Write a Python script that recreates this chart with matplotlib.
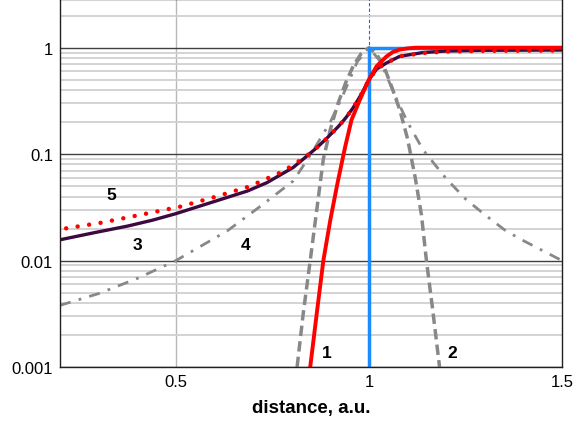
import matplotlib.pyplot as plt
from matplotlib.ticker import FixedLocator, LogLocator, NullFormatter

plt.rcParams['font.family'] = ['Liberation Sans', 'DejaVu Sans']

# curve 1: steep red sigmoid
x1 = [0.848, 0.865, 0.882, 0.9, 0.918, 0.938, 0.955, 0.977, 1.0, 1.02, 1.046,
      1.062, 1.08, 1.1, 1.123, 1.2, 1.5]
y1 = [0.001, 0.0032, 0.01, 0.024, 0.052, 0.115, 0.21, 0.327, 0.50, 0.67, 0.83,
      0.91, 0.96, 0.985, 1.0, 1.0, 1.0]

# curve 2: gray dashed peak
x2 = [0.814, 0.83, 0.848, 0.865, 0.882, 0.9, 0.92, 0.94, 0.96, 0.98, 1.0,
      1.02, 1.04, 1.06, 1.08, 1.1, 1.12, 1.136, 1.149, 1.165, 1.183]
y2 = [0.001, 0.0032, 0.01, 0.03, 0.09, 0.17, 0.30, 0.47, 0.68, 0.88, 1.0,
      0.87, 0.65, 0.42, 0.26, 0.14, 0.06, 0.027, 0.01, 0.0035, 0.001]

# curve 3: dark purple solid
x3 = [0.204, 0.289, 0.375, 0.44, 0.5, 0.59, 0.685, 0.736, 0.804, 0.835, 0.865, 0.891,
      0.921, 0.94, 0.959, 0.98, 1.0, 1.02, 1.046, 1.08, 1.14, 1.2, 1.3, 1.5]
y3 = [0.0158, 0.0183, 0.0211, 0.0240, 0.0276, 0.035, 0.045, 0.054, 0.075, 0.093, 0.115, 0.141,
      0.182, 0.219, 0.272, 0.363, 0.50, 0.63, 0.72, 0.83, 0.90, 0.93, 0.945, 0.95]

# curve 4: gray dash-dot peak
x4 = [0.2, 0.3, 0.4, 0.5, 0.633, 0.72, 0.804, 0.85, 0.9, 0.93, 0.95, 0.97, 1.0,
      1.03, 1.05, 1.07, 1.1, 1.14, 1.2, 1.25, 1.3, 1.355, 1.4, 1.5]
y4 = [0.0038, 0.0049, 0.0068, 0.010, 0.019, 0.0326, 0.056, 0.10, 0.2, 0.34, 0.5, 0.74, 1.0,
      0.74, 0.5, 0.34, 0.2, 0.11, 0.059, 0.038, 0.027, 0.019, 0.0154, 0.010]

# curve 5: red dotted
x5 = [0.216, 0.307, 0.423, 0.511, 0.6, 0.689, 0.778, 0.835, 0.865, 0.891, 0.921, 0.94, 0.959,
      0.98, 1.0, 1.02, 1.046, 1.08, 1.14, 1.2, 1.3, 1.5]
y5 = [0.0201, 0.0227, 0.0276, 0.0321, 0.0395, 0.0495, 0.069, 0.094, 0.115, 0.141, 0.182, 0.219,
      0.272, 0.363, 0.50, 0.63, 0.72, 0.83, 0.89, 0.92, 0.935, 0.94]

# ideal step
x_step = [0.2, 1.0, 1.0, 1.5]
y_step = [1e-4, 1e-4, 1.0, 1.0]

labels = ['1', '2', '3', '4', '5']
label_x = [0.892, 1.216, 0.4, 0.68, 0.332]
label_y = [0.00138, 0.00138, 0.0143, 0.0143, 0.042]


def main():
    fig = plt.figure(figsize=(5.79, 4.27), dpi=100)
    ax = fig.add_axes([0.1036, 0.138, 0.867, 0.861])

    ax.set_yscale('log')
    ax.set_xlim(0.2, 1.5)
    ax.set_ylim(0.001, 2.84)

    ax.xaxis.set_major_locator(FixedLocator([0.5, 1.0, 1.5]))
    ax.set_xticklabels(['0.5', '1', '1.5'])
    ax.yaxis.set_major_locator(FixedLocator([0.001, 0.01, 0.1, 1]))
    ax.set_yticklabels(['0.001', '0.01', '0.1', '1'])
    ax.yaxis.set_minor_locator(LogLocator(base=10, subs=range(2, 10)))
    ax.yaxis.set_minor_formatter(NullFormatter())
    ax.tick_params(which='both', length=0, labelsize=12, pad=5)

    ax.grid(True, which='minor', axis='y', color='#d0d0d0', lw=1.3)
    ax.grid(True, which='major', axis='y', color='#404040', lw=1.0)
    ax.axvline(0.5, color='#b8b8b8', lw=1.0, zorder=0.5)
    ax.axvline(1.0, color='#2060ff', lw=0.8, ls=(0, (3, 2)), zorder=0.5)
    ax.set_axisbelow(True)

    for sp in ax.spines.values():
        sp.set_color('#202020')
        sp.set_linewidth(1.0)

    ax.plot(x4, y4, color='#888888', lw=2.0, ls=(0, (4, 3, 1, 3)))
    ax.plot(x2, y2, color='#888888', lw=2.5, ls=(0, (3, 1.5)))
    ax.plot(x_step, y_step, color='#1a8cff', lw=2.5)
    ax.plot(x3, y3, color='#3c0a40', lw=2.4)
    ax.plot(x5, y5, color='#ff0000', lw=3.2, ls=(0, (0.01, 2.6)), dash_capstyle='round')
    ax.plot(x1, y1, color='#ff0000', lw=2.8)

    for t, lx, ly in zip(labels, label_x, label_y):
        ax.text(lx, ly, t, fontsize=12.5, fontweight='bold', ha='center', va='center')

    ax.set_xlabel('distance, a.u.', fontsize=13.5, fontweight='bold', labelpad=7)

    fig.savefig('out.png', dpi=100)


if __name__ == '__main__':
    main()
